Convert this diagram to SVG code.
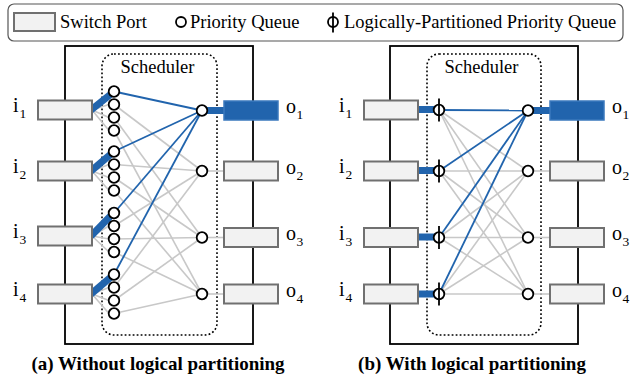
<svg xmlns="http://www.w3.org/2000/svg" width="631" height="378" viewBox="0 0 631 378">
<style>
text{font-family:"Liberation Serif","Times New Roman",serif;fill:#000}
.lbl{font-size:18.5px}
.io{font-size:20px}
.sub{font-size:13.5px}
.cap{font-size:19px;font-weight:bold}
.port{fill:#f2f2f2;stroke:#707070;stroke-width:2}
.bport{fill:#2164ad;stroke:#3a78bd;stroke-width:1.5}
.box{fill:none;stroke:#000;stroke-width:1.8}
.sched{fill:none;stroke:#000;stroke-width:1.6;stroke-dasharray:1.8 2.2}
.q{fill:#fff;stroke:#000;stroke-width:1.8}
.g{stroke:#c8c8c8;stroke-width:1.6;fill:none}
.b{stroke:#2164ad;stroke-width:1.8;fill:none}
.bb{stroke:#2164ad;stroke-width:7;fill:none}
.bar{stroke:#000;stroke-width:1.8}
</style>
<!-- Legend -->
<g id="legend">
<rect x="8" y="4" width="615" height="37" rx="6" fill="#fff" stroke="#555" stroke-width="1.2"/>
<rect x="14" y="13" width="41" height="18" class="port"/>
<text x="60" y="28" class="lbl">Switch Port</text>
<circle cx="181" cy="22" r="5" class="q"/>
<text x="190" y="28" class="lbl">Priority Queue</text>
<line x1="333" y1="12.5" x2="333" y2="32.5" class="bar"/>
<circle cx="333" cy="22" r="5" fill="none" stroke="#000" stroke-width="1.8"/>
<text x="344" y="28" class="lbl">Logically-Partitioned Priority Queue</text>
</g>

<!-- Panel (a) -->
<g id="panel-a-frame">
<rect x="65" y="46" width="188" height="298" class="box"/>
<rect x="102" y="54" width="115" height="281" rx="12" class="sched"/>
<text x="157.5" y="73" class="lbl" text-anchor="middle">Scheduler</text>
</g>
<g id="connectors-a">
<g class="g">
<line x1="92" y1="110" x2="109" y2="104.5"/><line x1="92" y1="110" x2="109" y2="117.5"/><line x1="92" y1="110" x2="109" y2="130.5"/>
<line x1="92" y1="171" x2="109" y2="164.5"/><line x1="92" y1="171" x2="109" y2="177.5"/><line x1="92" y1="171" x2="109" y2="190.5"/>
<line x1="92" y1="236" x2="109" y2="226"/><line x1="92" y1="236" x2="109" y2="239"/><line x1="92" y1="236" x2="109" y2="252"/>
<line x1="92" y1="294" x2="109" y2="287.5"/><line x1="92" y1="294" x2="109" y2="300.5"/><line x1="92" y1="294" x2="109" y2="313.5"/>
<line x1="114" y1="104.5" x2="202" y2="171"/><line x1="114" y1="117.5" x2="202" y2="237.5"/><line x1="114" y1="130.5" x2="202" y2="294"/>
<line x1="114" y1="164.5" x2="202" y2="171"/><line x1="114" y1="177.5" x2="202" y2="237.5"/><line x1="114" y1="190.5" x2="202" y2="294"/>
<line x1="114" y1="226" x2="202" y2="171"/><line x1="114" y1="239" x2="202" y2="237.5"/><line x1="114" y1="252" x2="202" y2="294"/>
<line x1="114" y1="287.5" x2="202" y2="171"/><line x1="114" y1="300.5" x2="202" y2="237.5"/><line x1="114" y1="313.5" x2="202" y2="294"/>
<line x1="202" y1="171" x2="224" y2="171"/><line x1="202" y1="237.5" x2="224" y2="237.5"/><line x1="202" y1="294" x2="224" y2="294"/>
</g>
<g class="b">
<line x1="114" y1="91.5" x2="202" y2="110.5"/><line x1="114" y1="151.5" x2="202" y2="110.5"/><line x1="114" y1="213" x2="202" y2="110.5"/><line x1="114" y1="274.5" x2="202" y2="110.5"/>
</g>
<g class="bb">
<line x1="91" y1="110" x2="111" y2="94"/><line x1="91" y1="171" x2="111" y2="154"/><line x1="91" y1="236" x2="111" y2="215.5"/><line x1="91" y1="294" x2="111" y2="277"/>
<line x1="202" y1="110.5" x2="225" y2="110.5"/>
</g>
</g>
<g id="inputs-a">
<rect x="38" y="100.5" width="54" height="19" class="port"/>
<rect x="38" y="161.5" width="54" height="19" class="port"/>
<rect x="38" y="226.5" width="54" height="19" class="port"/>
<rect x="38" y="284.5" width="54" height="19" class="port"/>
<text x="13" y="112" class="io">i</text><text x="19.5" y="117.5" class="sub">1</text>
<text x="13" y="173" class="io">i</text><text x="19.5" y="178.5" class="sub">2</text>
<text x="13" y="238" class="io">i</text><text x="19.5" y="243.5" class="sub">3</text>
<text x="13" y="296" class="io">i</text><text x="19.5" y="301.5" class="sub">4</text>
</g>
<g id="queues-a">
<circle cx="114" cy="91.5" r="5.3" class="q"/><circle cx="114" cy="104.5" r="5.3" class="q"/><circle cx="114" cy="117.5" r="5.3" class="q"/><circle cx="114" cy="130.5" r="5.3" class="q"/>
<circle cx="114" cy="151.5" r="5.3" class="q"/><circle cx="114" cy="164.5" r="5.3" class="q"/><circle cx="114" cy="177.5" r="5.3" class="q"/><circle cx="114" cy="190.5" r="5.3" class="q"/>
<circle cx="114" cy="213" r="5.3" class="q"/><circle cx="114" cy="226" r="5.3" class="q"/><circle cx="114" cy="239" r="5.3" class="q"/><circle cx="114" cy="252" r="5.3" class="q"/>
<circle cx="114" cy="274.5" r="5.3" class="q"/><circle cx="114" cy="287.5" r="5.3" class="q"/><circle cx="114" cy="300.5" r="5.3" class="q"/><circle cx="114" cy="313.5" r="5.3" class="q"/>
<circle cx="202" cy="110.5" r="5.3" class="q"/><circle cx="202" cy="171" r="5.3" class="q"/><circle cx="202" cy="237.5" r="5.3" class="q"/><circle cx="202" cy="294" r="5.3" class="q"/>
</g>
<g id="outputs-a">
<rect x="224" y="101" width="54" height="19" class="bport"/>
<rect x="224" y="161.5" width="54" height="19" class="port"/>
<rect x="224" y="228" width="54" height="19" class="port"/>
<rect x="224" y="284.5" width="54" height="19" class="port"/>
<text x="286" y="113" class="io">o</text><text x="296.5" y="118.5" class="sub">1</text>
<text x="286" y="174" class="io">o</text><text x="296.5" y="179.5" class="sub">2</text>
<text x="286" y="240" class="io">o</text><text x="296.5" y="245.5" class="sub">3</text>
<text x="286" y="297" class="io">o</text><text x="296.5" y="302.5" class="sub">4</text>
</g>

<!-- Panel (b) -->
<g id="panel-b-frame">
<rect x="390" y="46" width="188" height="298" class="box"/>
<rect x="427" y="54" width="114" height="281" rx="12" class="sched"/>
<text x="481.5" y="73" class="lbl" text-anchor="middle">Scheduler</text>
</g>
<g id="connectors-b">
<g class="g">
<line x1="439" y1="110" x2="528" y2="171"/><line x1="439" y1="110" x2="528" y2="237.5"/><line x1="439" y1="110" x2="528" y2="294"/>
<line x1="439" y1="171" x2="528" y2="171"/><line x1="439" y1="171" x2="528" y2="237.5"/><line x1="439" y1="171" x2="528" y2="294"/>
<line x1="439" y1="237.5" x2="528" y2="171"/><line x1="439" y1="237.5" x2="528" y2="237.5"/><line x1="439" y1="237.5" x2="528" y2="294"/>
<line x1="439" y1="294" x2="528" y2="171"/><line x1="439" y1="294" x2="528" y2="237.5"/><line x1="439" y1="294" x2="528" y2="294"/>
<line x1="528" y1="171" x2="550" y2="171"/><line x1="528" y1="237.5" x2="550" y2="237.5"/><line x1="528" y1="294" x2="550" y2="294"/>
</g>
<g class="b">
<line x1="439" y1="110" x2="528" y2="110.5"/><line x1="439" y1="171" x2="528" y2="110.5"/><line x1="439" y1="237.5" x2="528" y2="110.5"/><line x1="439" y1="294" x2="528" y2="110.5"/>
</g>
<g class="bb">
<line x1="417" y1="109.5" x2="436" y2="109.5"/><line x1="417" y1="170.5" x2="436" y2="170.5"/><line x1="417" y1="237" x2="436" y2="237"/><line x1="417" y1="294" x2="436" y2="294"/>
<line x1="528" y1="110.5" x2="551" y2="110.5"/>
</g>
</g>
<g id="inputs-b">
<rect x="364" y="100.5" width="54" height="19" class="port"/>
<rect x="364" y="161.5" width="54" height="19" class="port"/>
<rect x="364" y="228" width="54" height="19" class="port"/>
<rect x="364" y="284.5" width="54" height="19" class="port"/>
<text x="339" y="112" class="io">i</text><text x="345.5" y="117.5" class="sub">1</text>
<text x="339" y="173" class="io">i</text><text x="345.5" y="178.5" class="sub">2</text>
<text x="339" y="240" class="io">i</text><text x="345.5" y="245.5" class="sub">3</text>
<text x="339" y="296" class="io">i</text><text x="345.5" y="301.5" class="sub">4</text>
</g>
<g id="queues-b">
<circle cx="439" cy="110" r="5.3" class="q"/><line x1="439" y1="98.5" x2="439" y2="121.5" class="bar"/>
<circle cx="439" cy="171" r="5.3" class="q"/><line x1="439" y1="159.5" x2="439" y2="182.5" class="bar"/>
<circle cx="439" cy="237.5" r="5.3" class="q"/><line x1="439" y1="226" x2="439" y2="249" class="bar"/>
<circle cx="439" cy="294" r="5.3" class="q"/><line x1="439" y1="282.5" x2="439" y2="305.5" class="bar"/>
<circle cx="528" cy="110.5" r="5.3" class="q"/><circle cx="528" cy="171" r="5.3" class="q"/><circle cx="528" cy="237.5" r="5.3" class="q"/><circle cx="528" cy="294" r="5.3" class="q"/>
</g>
<g id="outputs-b">
<rect x="550" y="101" width="54" height="19" class="bport"/>
<rect x="550" y="161.5" width="54" height="19" class="port"/>
<rect x="550" y="228" width="54" height="19" class="port"/>
<rect x="550" y="284.5" width="54" height="19" class="port"/>
<text x="612" y="113" class="io">o</text><text x="622.5" y="118.5" class="sub">1</text>
<text x="612" y="174" class="io">o</text><text x="622.5" y="179.5" class="sub">2</text>
<text x="612" y="240" class="io">o</text><text x="622.5" y="245.5" class="sub">3</text>
<text x="612" y="297" class="io">o</text><text x="622.5" y="302.5" class="sub">4</text>
</g>

<g id="captions">
<text x="158" y="370" class="cap" text-anchor="middle">(a) Without logical partitioning</text>
<text x="472" y="370" class="cap" text-anchor="middle">(b) With logical partitioning</text>
</g>
</svg>
